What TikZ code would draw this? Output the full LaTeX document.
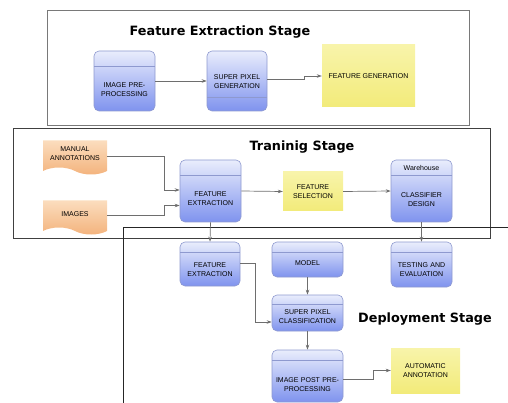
\documentclass[tikz,border=0pt]{standalone}
\usepackage{fontspec}
\setmainfont{Liberation Sans}
\newfontfamily\titlefont{DejaVu Sans}
\usetikzlibrary{arrows.meta,shapes.symbols}
\definecolor{bluetop}{HTML}{E9EDFC}
\definecolor{bluebot}{HTML}{7F93EE}
\definecolor{boxedge}{HTML}{8E99CF}
\definecolor{yellowtop}{HTML}{F8F4AA}
\definecolor{yellowbot}{HTML}{F2EB7A}
\definecolor{orangetop}{HTML}{FBDDBE}
\definecolor{orangebot}{HTML}{F3B27B}
\definecolor{linkgray}{HTML}{6E6E6E}
\newcommand\boxfont{\fontsize{7}{9}\selectfont}
\newcommand\stagefont{\titlefont\bfseries\fontsize{12.8}{14}\selectfont}
\begin{document}
\begin{tikzpicture}[x = 1pt, y = -1pt,
  bluebox/.style = {draw = boxedge, line width = 0.6pt, rounded corners = 5pt, top color = bluetop, bottom color = bluebot, inner sep = 0pt, align = center, font = \boxfont, path picture = {\draw[boxedge, line width = 0.6pt] ([yshift = -#1]path picture bounding box.north west) -- ([yshift = -#1]path picture bounding box.north east);}},
  footer/.style = {path picture = {\draw[boxedge, line width = 0.6pt] ([yshift = #1]path picture bounding box.south west) -- ([yshift = #1]path picture bounding box.south east);}},
  yellowbox/.style = {draw = none, top color = yellowtop, bottom color = yellowbot, inner sep = 0pt, align = center, font = \boxfont},
  docbox/.style = {tape, tape bend top = none, tape bend bottom = out and in, tape bend height = 7pt, draw = none, top color = orangetop, bottom color = orangebot, inner sep = 0pt, minimum width = 64pt, minimum height = 34pt, align = center, font = \boxfont},
  link/.style = {draw = linkgray, line width = 0.7pt, -{Stealth[length = 5pt, width = 3.5pt]}},
  stage/.style = {font = \stagefont}]
\useasboundingbox (0,0) rectangle (508,403);
\clip (0,0) rectangle (508,403);
\draw[color = white] (0,0) rectangle (508,403);
\draw[draw = gray!95!black, line width = 1pt] (47,11) rectangle (469,126);
\draw[draw = black!75, line width = 1pt] (13,129) rectangle (490,238);
\draw[draw = black!85, line width = 1pt] (123,420) -- (123,228) -- (530,228);
\node[stage] (fes) at (220,32) {Feature Extraction Stage};
\node[bluebox = 15pt, text width = 61pt, text height = 36.5pt, text depth = 23.5pt] (ipp) at (124.5,81) {IMAGE PRE-\\PROCESSING};
\node[bluebox = 15pt, footer = 14pt, text width = 60pt, text height = 28.5pt, text depth = 31.5pt] (spg) at (237,81) {SUPER PIXEL\\GENERATION};
\node[yellowbox, minimum width = 93pt, minimum height = 62pt] (fgen) at (368.5,76) {FEATURE GENERATION};
\draw[link] (ipp.east) -- (spg.west);
\draw[link] ([yshift = 1.5pt]spg.east) -- ++(37,0) |- (fgen.west);
\node[stage] (trs) at (302,147) {Traninig Stage};
\node[docbox] (man) at (75,154) {MANUAL\\ANNOTATIONS};
\node[docbox] (img) at (75,214) {IMAGES};
\node[bluebox = 15pt, text width = 61pt, text height = 36.5pt, text depth = 25.5pt] (fex) at (210.5,191) {FEATURE\\EXTRACTION};
\node[yellowbox, minimum width = 60pt, minimum height = 39pt] (fsel) at (313,191.5) {FEATURE\\SELECTION};
\node[bluebox = 15pt, text width = 61pt, text height = 37.5pt, text depth = 24.5pt] (cld) at (421.5,191) {CLASSIFIER\\DESIGN};
\node[font = \boxfont, inner sep = 0pt] (whs) at (421.5,168) {Warehouse};
\draw[link] ([yshift = -2pt]man.east) -- ++(57,0) |- ([yshift = 1pt]fex.west);
\draw[link] ([yshift = -1pt]img.east) -- ++(57,0) |- ([yshift = -14.5pt]fex.west);
\draw[link] (fex.east) -- (fsel.west);
\draw[link] (fsel.east) -- (cld.west);
\node[stage] (dps) at (425,319) {Deployment Stage};
\node[bluebox = 10pt, text width = 60pt, text height = 25.5pt, text depth = 18.5pt] (dfex) at (210,264) {FEATURE\\EXTRACTION};
\node[bluebox = 10pt, text width = 71pt, text height = 23.5pt, text depth = 11.5pt] (model) at (307.5,259.5) {MODEL};
\node[bluebox = 10pt, text width = 61pt, text height = 25.5pt, text depth = 19.5pt] (test) at (421.5,264.5) {TESTING AND\\EVALUATION};
\node[bluebox = 9pt, text width = 71pt, text height = 19.5pt, text depth = 16.5pt] (spc) at (307.5,313) {SUPER PIXEL\\CLASSIFICATION};
\node[bluebox = 10pt, text width = 71pt, text height = 32.5pt, text depth = 19.5pt] (ippp) at (307.5,376) {IMAGE POST PRE-\\PROCESSING};
\node[yellowbox, minimum width = 69pt, minimum height = 45pt] (aut) at (425.5,370.5) {AUTOMATIC\\ANNOTATION};
\draw[link] (fex.south) -- (dfex.north);
\draw[link] (cld.south) -- (test.north);
\draw[link] ([yshift = 1pt]dfex.east) -- ++(15,0) |- ([yshift = -9pt]spc.west);
\draw[link] (model.south) -- (spc.north);
\draw[link] (spc.south) -- (ippp.north);
\draw[link] ([yshift = -3pt]ippp.east) -- ++(30,0) |- (aut.west);
\end{tikzpicture}
\end{document}
